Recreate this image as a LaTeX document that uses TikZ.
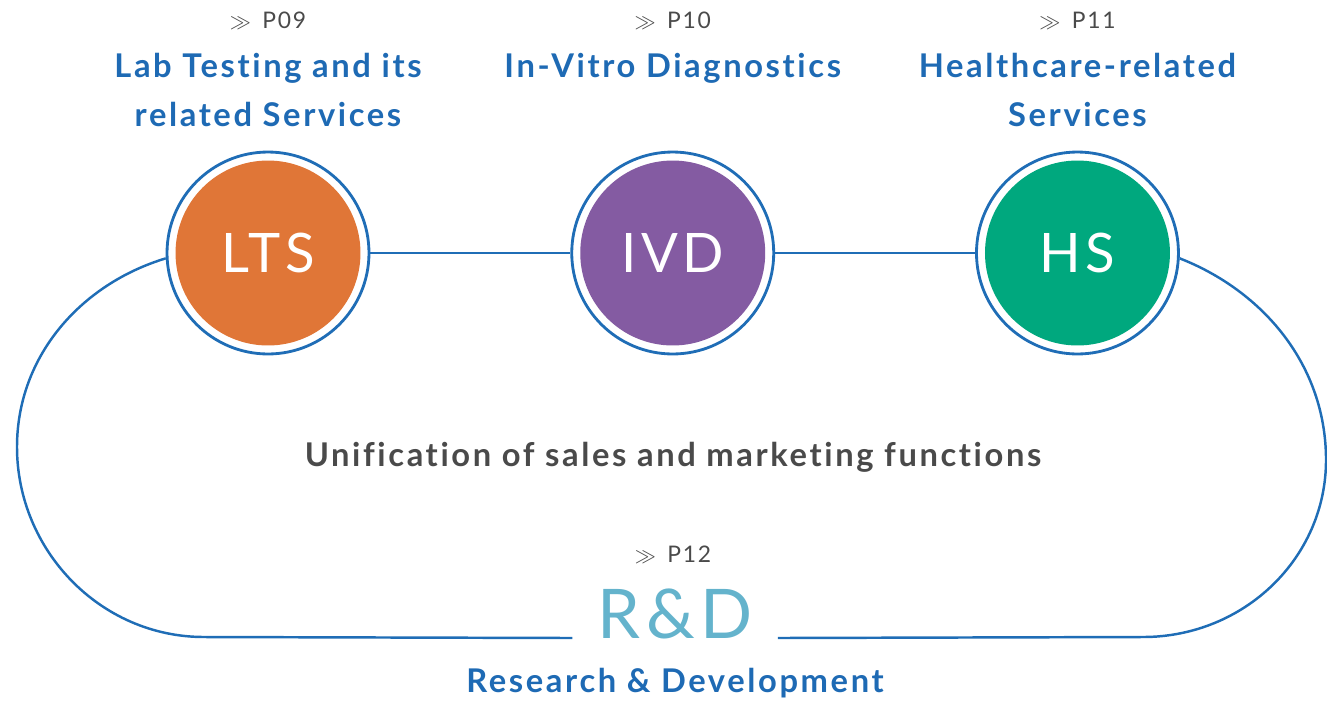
\documentclass[tikz,border=0pt]{standalone}
\usepackage{fontspec}
\setsansfont{Lato}
\newfontfamily\labelfont{Lato}[LetterSpace=8, Ligatures=NoCommon]
\usetikzlibrary{positioning}
\definecolor{lineblue}{HTML}{1F6DB6}
\definecolor{titleblue}{HTML}{1E6AB4}
\definecolor{ltsorange}{HTML}{E07637}
\definecolor{ivdpurple}{HTML}{845BA2}
\definecolor{hsgreen}{HTML}{00A87E}
\definecolor{rdblue}{HTML}{64B3CC}
\definecolor{textgray}{HTML}{4A4A4A}

\begin{document}
\begin{tikzpicture}[
        x=0.02cm, y=-0.02cm,
        node distance=4.0cm,
        unit/.style={circle, draw=lineblue, line width=1.6pt, fill=white, minimum size=4.04cm, inner sep=0pt,
            text=white, font=\labelfont\fontsize{31}{36}\selectfont,
            path picture={\fill[#1] (path picture bounding box.center) circle (1.85cm);}},
        title/.style={text=titleblue, font=\labelfont\bfseries\fontsize{18.6}{27.8}\selectfont, align=center, anchor=base, inner sep=0pt},
        page/.style={text=textgray, font=\labelfont\fontsize{13}{15}\selectfont, anchor=base, inner sep=0pt},
        loop/.style={draw=lineblue, line width=1.4pt}
    ]
    \useasboundingbox (0,0) rectangle (1327,700);

    % Circles
    \node[unit=ltsorange] (LTS) at (268,253) {LTS};
    \node[unit=ivdpurple, right=of LTS] (IVD) {IVD};
    \node[unit=hsgreen, right=of IVD] (HS) {HS};

    % Titles
    \node[title] (LTStitle) at (LTS |- 0,126) {Lab Testing and its\\related Services};
    \node[title] (IVDtitle) at (IVD |- 0,77) {In-Vitro Diagnostics};
    \node[title] (HStitle) at (HS |- 0,126) {Healthcare-related\\Services};
    \node[page] (LTSpage) at (LTS |- 0,28) {$\gg$\, P09};
    \node[page] (IVDpage) at (IVD |- 0,28) {$\gg$\, P10};
    \node[page] (HSpage) at (HS |- 0,28) {$\gg$\, P11};

    % R&D
    \node[text=textgray, font=\labelfont\bfseries\fontsize{18.6}{22}\selectfont, anchor=base] (unify) at (673,466) {Unification of sales and marketing functions};
    \node[page] (RDpage) at (673,562) {$\gg$\, P12};
    \node[text=rdblue, font=\labelfont\fontsize{39}{44}\selectfont, anchor=base, inner xsep=0.5cm, inner ysep=0pt] (RD) at (675,638) {R\&D};
    \node[title] (RDtitle) at (675,692) {Research \& Development};

    % Lines
    \draw[loop] (LTS) -- (IVD);
    \draw[loop] (IVD) -- (HS);
    \draw[loop] (LTS.183) .. controls (81,284) and (17,356) .. (17,447)
        .. controls (17,550) and (100,637) .. (204,637) -- (RD.base west);
    \draw[loop] (HS.357) .. controls (1263,291) and (1326,365) .. (1326,460)
        .. controls (1326,558) and (1244,637) .. (1143,637) -- (RD.base east);

\end{tikzpicture}
\end{document}
